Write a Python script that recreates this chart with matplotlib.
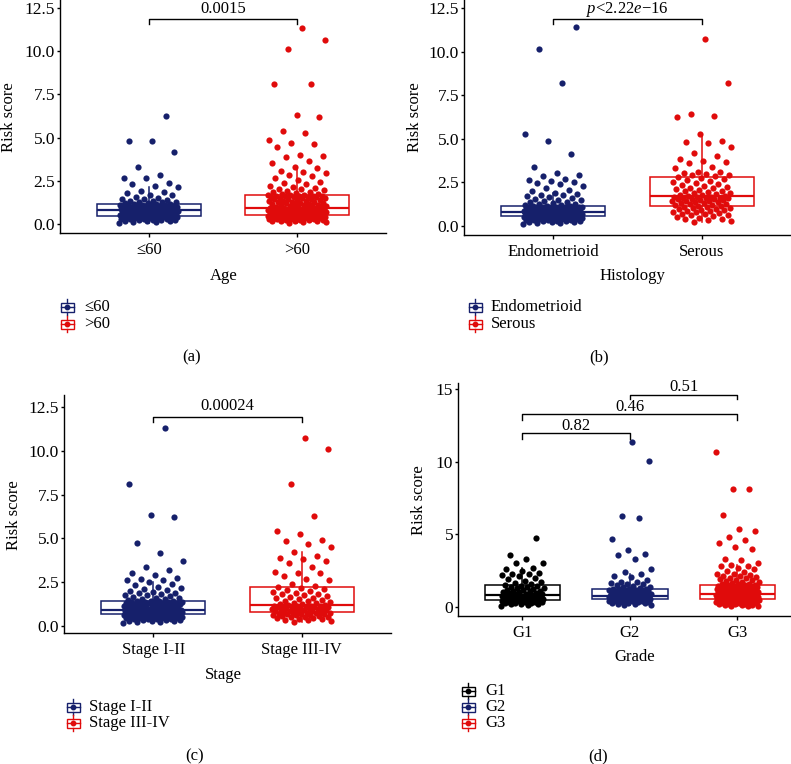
import numpy as np
import matplotlib
matplotlib.use("Agg")
import matplotlib.pyplot as plt
from matplotlib.patches import Rectangle

plt.rcParams['font.family'] = ['Liberation Serif', 'DejaVu Serif']
plt.rcParams['font.size'] = 12
plt.rcParams['mathtext.fontset'] = 'custom'
plt.rcParams['mathtext.rm'] = 'Liberation Serif'
plt.rcParams['mathtext.it'] = 'Liberation Serif:italic'

NAVY = '#16206B'
RED = '#E00B0B'
BLACK = '#000000'

# ---- data: risk scores per group ----
age_le60 = [0.06, 0.1, 0.13, 0.15, 0.16, 0.19, 0.21, 0.22, 0.25, 0.26, 0.28, 0.3, 0.31, 0.31, 0.33,
            0.35, 0.36, 0.36, 0.38, 0.39, 0.4, 0.4, 0.41, 0.42, 0.43, 0.43, 0.44, 0.45, 0.45, 0.46,
            0.47, 0.48, 0.48, 0.5, 0.51, 0.52, 0.53, 0.53, 0.55, 0.56, 0.57, 0.58, 0.6, 0.61, 0.61,
            0.63, 0.64, 0.65, 0.66, 0.67, 0.68, 0.7, 0.71, 0.72, 0.72, 0.73, 0.74, 0.75, 0.76, 0.77,
            0.78, 0.79, 0.8, 0.81, 0.82, 0.84, 0.85, 0.86, 0.87, 0.88, 0.9, 0.91, 0.92, 0.93, 0.95,
            0.96, 0.97, 0.98, 1.0, 1.01, 1.02, 1.03, 1.05, 1.06, 1.07, 1.08, 1.09, 1.1, 1.11, 1.12,
            1.14, 1.16, 1.18, 1.2, 1.23, 1.25, 1.27, 1.3, 1.33, 1.35, 1.38, 1.42, 1.46, 1.52, 1.58,
            1.65, 1.7, 1.78, 1.85, 1.9, 2.15, 2.2, 2.3, 2.35, 2.64, 2.66, 2.85, 3.3, 4.18, 4.8, 4.82, 6.25]
age_gt60 = [0.08, 0.11, 0.13, 0.15, 0.17, 0.19, 0.2, 0.22, 0.23, 0.25, 0.26, 0.28, 0.29, 0.3, 0.31,
            0.32, 0.33, 0.34, 0.35, 0.36, 0.37, 0.38, 0.39, 0.4, 0.41, 0.42, 0.42, 0.43, 0.44, 0.45,
            0.46, 0.46, 0.47, 0.48, 0.48, 0.49, 0.5, 0.5, 0.51, 0.51, 0.52, 0.52,
            0.53, 0.54, 0.55, 0.56, 0.57, 0.58, 0.59, 0.6, 0.61, 0.62, 0.63, 0.64, 0.65, 0.66, 0.67,
            0.68, 0.69, 0.7, 0.71, 0.72, 0.73, 0.74, 0.75, 0.76, 0.77, 0.78, 0.79, 0.8, 0.81, 0.82,
            0.83, 0.84, 0.85, 0.86, 0.87, 0.88, 0.89, 0.9, 0.91, 0.92, 0.93, 0.94,
            0.95, 0.97, 0.99, 1.01, 1.03, 1.05, 1.07, 1.09, 1.1, 1.12, 1.14, 1.16, 1.18, 1.2, 1.22,
            1.24, 1.26, 1.28, 1.3, 1.32, 1.34, 1.36, 1.38, 1.4, 1.42, 1.44, 1.46, 1.48, 1.5, 1.52,
            1.54, 1.56, 1.57, 1.58, 1.6, 1.61, 1.62, 1.63, 1.64, 1.65, 1.66, 1.68,
            1.72, 1.76, 1.8, 1.84, 1.88, 1.92, 1.96, 2.0, 2.05, 2.1, 2.15, 2.22, 2.3, 2.38, 2.45,
            2.55, 2.65, 2.75, 2.85, 2.95, 3.02, 3.08, 3.25, 3.3, 3.55, 3.65, 3.85, 3.95, 4.0, 4.45,
            4.65, 4.7, 4.85, 5.25, 5.4, 6.2, 6.3, 8.1, 8.12, 10.1, 10.65, 11.35]

hist_endo = [0.1, 0.14, 0.17, 0.2, 0.22, 0.24, 0.26, 0.28, 0.3, 0.31, 0.32, 0.34, 0.35, 0.36, 0.37,
             0.38, 0.39, 0.4, 0.41, 0.42, 0.43, 0.44, 0.45, 0.46, 0.47, 0.47, 0.48, 0.49, 0.5, 0.5,
             0.51, 0.52, 0.52, 0.53, 0.54, 0.54, 0.55, 0.56, 0.56, 0.57,
             0.58, 0.59, 0.59, 0.6, 0.61, 0.61, 0.62, 0.63, 0.63, 0.64, 0.64, 0.65, 0.66, 0.66, 0.67,
             0.67, 0.68, 0.68, 0.69, 0.7, 0.7, 0.71, 0.71, 0.72, 0.72, 0.73, 0.73, 0.74, 0.74, 0.75,
             0.75, 0.76, 0.76, 0.76, 0.77, 0.77, 0.77, 0.78, 0.78, 0.78,
             0.79, 0.8, 0.81, 0.82, 0.83, 0.84, 0.85, 0.86, 0.86, 0.87, 0.88, 0.89, 0.9, 0.91, 0.92,
             0.93, 0.94, 0.95, 0.96, 0.97, 0.98, 0.99, 1.0, 1.01, 1.02, 1.03, 1.04, 1.05, 1.06, 1.07,
             1.07, 1.08, 1.08, 1.09, 1.09, 1.1, 1.1, 1.11, 1.11, 1.11,
             1.13, 1.15, 1.17, 1.2, 1.22, 1.25, 1.28, 1.31, 1.35, 1.38, 1.42, 1.46, 1.5, 1.55, 1.6,
             1.65, 1.7, 1.75, 1.8, 1.85, 1.9, 1.98, 2.05, 2.15, 2.3, 2.4, 2.45, 2.5, 2.6, 2.65,
             2.7, 2.85, 2.95, 3.05, 3.4, 4.15, 4.85, 5.3, 8.2, 10.15, 11.4]
hist_serous = [0.25, 0.3, 0.35, 0.38, 0.42, 0.47, 0.5, 0.55, 0.6, 0.63, 0.67, 0.7, 0.74, 0.78, 0.8,
               0.84, 0.87, 0.9, 0.93, 0.96, 0.99, 1.02, 1.05, 1.08, 1.11,
               1.13, 1.16, 1.19, 1.22, 1.25, 1.28, 1.3, 1.33, 1.36, 1.38, 1.41, 1.43, 1.45, 1.48, 1.5,
               1.52, 1.54, 1.56, 1.58, 1.6, 1.62, 1.63, 1.65, 1.66, 1.68,
               1.71, 1.74, 1.77, 1.8, 1.84, 1.87, 1.9, 1.94, 1.98, 2.02, 2.06, 2.1, 2.15, 2.2, 2.25,
               2.3, 2.36, 2.42, 2.48, 2.54, 2.6, 2.65, 2.7, 2.75, 2.79,
               2.85, 2.9, 2.95, 3.0, 3.05, 3.1, 3.12, 3.3, 3.4, 3.6, 3.65, 3.75, 3.85, 4.0, 4.2,
               4.5, 4.75, 4.8, 4.9, 5.3, 6.25, 6.3, 6.4, 8.2, 10.75]

stage_early = [0.18, 0.22, 0.25, 0.27, 0.29, 0.31, 0.33, 0.35, 0.36, 0.38, 0.4, 0.41, 0.42, 0.44, 0.45,
               0.46, 0.47, 0.48, 0.49, 0.5, 0.51, 0.52, 0.53, 0.54, 0.55, 0.56, 0.57, 0.58, 0.59, 0.6,
               0.6, 0.61, 0.62, 0.63, 0.63, 0.64, 0.65, 0.66,
               0.67, 0.67, 0.68, 0.69, 0.7, 0.7, 0.71, 0.72, 0.73, 0.73, 0.74, 0.75, 0.76, 0.76, 0.77,
               0.78, 0.79, 0.8, 0.8, 0.81, 0.82, 0.83, 0.83, 0.84, 0.85, 0.85, 0.86, 0.87, 0.87, 0.88,
               0.88, 0.89, 0.89, 0.9, 0.9, 0.91, 0.91, 0.92,
               0.93, 0.95, 0.96, 0.98, 0.99, 1.0, 1.02, 1.03, 1.05, 1.06, 1.08, 1.09, 1.1, 1.12, 1.13,
               1.15, 1.16, 1.18, 1.19, 1.2, 1.22, 1.23, 1.25, 1.26, 1.28, 1.29, 1.3, 1.31, 1.33, 1.34,
               1.35, 1.36, 1.37, 1.38, 1.39, 1.4, 1.41, 1.42,
               1.45, 1.48, 1.52, 1.55, 1.58, 1.62, 1.66, 1.7, 1.74, 1.78, 1.82, 1.86, 1.9, 1.95, 2.0,
               2.05, 2.1, 2.18, 2.25, 2.35, 2.4, 2.5, 2.6, 2.65, 2.7, 2.75, 2.9, 3.0, 3.2, 3.35,
               3.7, 4.15, 4.75, 6.2, 6.35, 8.1, 11.3]
stage_late = [0.25, 0.3, 0.33, 0.36, 0.39, 0.42, 0.45, 0.47, 0.5, 0.52, 0.54, 0.56, 0.58, 0.6, 0.62,
              0.64, 0.66, 0.67, 0.69, 0.7, 0.72, 0.73, 0.75, 0.76, 0.78,
              0.8, 0.82, 0.84, 0.86, 0.88, 0.9, 0.92, 0.94, 0.95, 0.97, 0.98, 1.0, 1.01, 1.03, 1.04,
              1.06, 1.07, 1.08, 1.09, 1.1, 1.11, 1.12, 1.13, 1.15, 1.16,
              1.19, 1.22, 1.25, 1.28, 1.31, 1.34, 1.38, 1.41, 1.45, 1.49, 1.53, 1.57, 1.61, 1.65, 1.7,
              1.75, 1.8, 1.85, 1.9, 1.95, 2.0, 2.05, 2.1, 2.15, 2.2,
              2.3, 2.4, 2.65, 2.7, 2.85, 3.0, 3.05, 3.1, 3.35, 3.6, 3.7, 3.85, 3.9, 4.0,
              4.2, 4.5, 4.65, 4.85, 4.9, 5.25, 5.4, 6.25, 8.1, 10.1, 10.7]

grade_g1 = [0.1, 0.14, 0.18, 0.2, 0.23, 0.25, 0.27, 0.29, 0.31, 0.33, 0.35, 0.37, 0.38, 0.4, 0.41,
            0.42, 0.44, 0.45, 0.46, 0.48,
            0.5, 0.52, 0.54, 0.56, 0.58, 0.6, 0.62, 0.63, 0.65, 0.66, 0.68, 0.69, 0.7, 0.72, 0.73,
            0.75, 0.76, 0.77, 0.79, 0.8,
            0.83, 0.86, 0.89, 0.92, 0.95, 0.98, 1.01, 1.04, 1.07, 1.1, 1.13, 1.17, 1.2, 1.24, 1.28,
            1.32, 1.36, 1.4, 1.44, 1.47,
            1.52, 1.58, 1.65, 1.7, 1.8, 1.95, 2.0, 2.1, 2.2, 2.25, 2.3, 2.35, 2.5, 2.6,
            2.65, 3.0, 3.05, 3.3, 3.55, 4.75]
grade_g2 = [0.12, 0.16, 0.2, 0.23, 0.26, 0.28, 0.3, 0.32, 0.34, 0.36, 0.38, 0.4, 0.41, 0.43, 0.44,
            0.46, 0.47, 0.48, 0.49, 0.5, 0.51, 0.52, 0.53, 0.54, 0.55,
            0.56, 0.57, 0.58, 0.59, 0.6, 0.61, 0.62, 0.63, 0.64, 0.65, 0.66, 0.67, 0.68, 0.69, 0.7,
            0.71, 0.72, 0.73, 0.74, 0.74, 0.75, 0.76, 0.76, 0.77, 0.78,
            0.8, 0.82, 0.84, 0.86, 0.88, 0.9, 0.92, 0.94, 0.96, 0.98, 1.0, 1.02, 1.04, 1.06, 1.08,
            1.1, 1.12, 1.14, 1.16, 1.18, 1.2, 1.21, 1.23, 1.25, 1.26,
            1.3, 1.35, 1.4, 1.45, 1.5, 1.55, 1.6, 1.65, 1.7, 1.75, 1.85, 2.05, 2.15, 2.3,
            2.4, 2.6, 3.3, 3.55, 3.65, 3.95, 4.7, 6.15, 6.25, 10.05, 11.35]
grade_g3 = [0.04, 0.07, 0.1, 0.12, 0.14, 0.16, 0.18, 0.2, 0.21, 0.23, 0.24, 0.26, 0.27, 0.28, 0.3,
            0.31, 0.32, 0.33, 0.34, 0.35, 0.36, 0.37, 0.38, 0.39, 0.4, 0.41, 0.42, 0.43, 0.44, 0.45,
            0.46, 0.47, 0.47, 0.48, 0.49, 0.5, 0.5, 0.51, 0.52, 0.53,
            0.54, 0.55, 0.56, 0.57, 0.58, 0.59, 0.6, 0.61, 0.62, 0.63, 0.64, 0.65, 0.66, 0.67, 0.68,
            0.69, 0.7, 0.71, 0.72, 0.73, 0.74, 0.75, 0.76, 0.77, 0.78, 0.78, 0.79, 0.8, 0.81, 0.82,
            0.83, 0.83, 0.84, 0.85, 0.85, 0.86, 0.86, 0.87, 0.87, 0.88,
            0.9, 0.91, 0.93, 0.94, 0.96, 0.97, 0.99, 1.0, 1.02, 1.03, 1.05, 1.06, 1.08, 1.09, 1.11,
            1.12, 1.14, 1.15, 1.17, 1.18, 1.2, 1.22, 1.23, 1.25, 1.27, 1.28, 1.3, 1.32, 1.33, 1.35,
            1.37, 1.38, 1.4, 1.41, 1.43, 1.44, 1.45, 1.47, 1.48, 1.49,
            1.52, 1.55, 1.58, 1.6, 1.66, 1.7, 1.73, 1.8, 1.84, 1.88, 1.92, 1.96, 2.0,
            2.05, 2.1, 2.15, 2.2, 2.25, 2.3, 2.4, 2.5, 2.6, 2.7, 2.8, 2.85, 2.9, 3.0, 3.2,
            3.3, 4.0, 4.1, 4.4, 4.6, 4.8, 5.2, 5.35, 6.3, 8.1, 8.1, 10.65]

age_labels = ['≤60', '>60']
hist_labels = ['Endometrioid', 'Serous']
stage_labels = ['Stage I-II', 'Stage III-IV']
grade_labels = ['G1', 'G2', 'G3']
p_age = '0.0015'
p_hist = r'$\mathit{p}$<2.22$\mathit{e}$−16'
p_stage = '0.00024'
p_grade = ['0.82', '0.46', '0.51']

W, H = 791, 764
fig = plt.figure(figsize=(W / 100, H / 100), dpi=100)


def px_axes(left, top, right, bottom):
    return fig.add_axes([left / W, 1 - bottom / H, (right - left) / W, (bottom - top) / H])


def panel(ax, groups, labels, colors, xlim, ylim, yticks, yfmt):
    pos = np.arange(1, len(groups) + 1)
    bp = ax.boxplot(groups, positions=pos, widths=0.7, showfliers=False, patch_artist=True,
                    whis=1.5, zorder=1)
    for i, c in enumerate(colors):
        bp['boxes'][i].set(facecolor='white', edgecolor=c, linewidth=1.1)
        bp['medians'][i].set(color=c, linewidth=1.6)
        for k in (2 * i, 2 * i + 1):
            bp['whiskers'][k].set(color=c, linewidth=1.1)
            bp['caps'][k].set(visible=False)
    for i, (g, c) in enumerate(zip(groups, colors)):
        n = len(g)
        # deterministic jitter, +-0.2 around the group position
        off = ((np.arange(n) * 0.6180339887 + 0.37 * i) % 1.0 - 0.5) * 0.4
        ax.scatter(pos[i] + off, g, s=20, color=c, linewidths=0, zorder=3)
    ax.set_xlim(*xlim)
    ax.set_ylim(*ylim)
    ax.set_xticks(pos)
    ax.set_xticklabels(labels)
    ax.set_yticks(yticks)
    ax.set_yticklabels([yfmt.format(t) for t in yticks])
    for s in ('top', 'right'):
        ax.spines[s].set_visible(False)
    for s in ('left', 'bottom'):
        ax.spines[s].set_linewidth(1.0)
    ax.tick_params(axis='y', length=2.5, width=1.0, pad=1, labelsize=12.5)
    ax.tick_params(axis='x', length=3, width=1.0, pad=3.5, labelsize=12)
    ax.patch.set_alpha(0)


def bracket(ax, x1, x2, y, tip, gap, label):
    ax.plot([x1, x1, x2, x2], [y - tip, y, y, y - tip], color='black', lw=1.0,
            clip_on=False, zorder=4)
    ax.text((x1 + x2) / 2, y + gap, label, ha='center', va='baseline', fontsize=12,
            clip_on=False)


ax_a = px_axes(60, 0, 386, 233)
panel(ax_a, [age_le60, age_gt60], age_labels, [NAVY, RED], (0.4, 2.6), (-0.52, 12.96),
      [0, 2.5, 5, 7.5, 10, 12.5], '{:.1f}')
bracket(ax_a, 1, 2, 11.86, 0.28, 0.35, p_age)

ax_b = px_axes(464, 0, 791, 235)
panel(ax_b, [hist_endo, hist_serous], hist_labels, [NAVY, RED], (0.4, 2.6), (-0.52, 12.96),
      [0, 2.5, 5, 7.5, 10, 12.5], '{:.1f}')
bracket(ax_b, 1, 2, 11.87, 0.28, 0.35, p_hist)

ax_c = px_axes(64, 395, 391, 633)
panel(ax_c, [stage_early, stage_late], stage_labels, [NAVY, RED], (0.4, 2.6), (-0.40, 13.18),
      [0, 2.5, 5, 7.5, 10, 12.5], '{:.1f}')
bracket(ax_c, 1, 2, 11.95, 0.3, 0.35, p_stage)

ax_d = px_axes(458, 383, 791, 616)
panel(ax_d, [grade_g1, grade_g2, grade_g3], grade_labels, [BLACK, NAVY, RED], (0.4, 3.498),
      (-0.62, 15.41), [0, 5, 10, 15], '{:.0f}')
bracket(ax_d, 1, 2, 11.95, 0.4, 0.22, p_grade[0])
bracket(ax_d, 1, 3, 13.28, 0.4, 0.22, p_grade[1])
bracket(ax_d, 2, 3, 14.59, 0.25, 0.25, p_grade[2])

# overlay in pixel coordinates for titles, legends and panel letters
ov = fig.add_axes([0, 0, 1, 1])
ov.set_xlim(0, W)
ov.set_ylim(H, 0)
ov.axis('off')
ov.patch.set_alpha(0)

for x, y in [(9, 117), (415, 117), (14, 515), (419, 500)]:
    ov.text(x, y, 'Risk score', rotation=90, ha='center', va='center', fontsize=12)

for txt, x, y in [('Age', 224, 276), ('Histology', 632, 276), ('Stage', 223, 675),
                  ('Grade', 635, 657), ('(a)', 192, 357), ('(b)', 599, 357),
                  ('(c)', 195, 756), ('(d)', 598, 756)]:
    ov.text(x, y, txt, ha='center', va='center', fontsize=12)


def legend_key(cx, cy, c, label, tx):
    ov.add_patch(Rectangle((cx - 6.5, cy - 4.5), 13, 9, facecolor='white', edgecolor=c, lw=1.0))
    ov.plot([cx, cx], [cy - 8, cy - 4.5], color=c, lw=1.0)
    ov.plot([cx, cx], [cy + 4.5, cy + 8], color=c, lw=1.0)
    ov.plot([cx - 6.5, cx + 6.5], [cy, cy], color=c, lw=1.0)
    ov.plot([cx], [cy], 'o', color=c, ms=3.2)
    ov.text(tx, cy, label, ha='left', va='center', fontsize=12)


legend_key(67, 307, NAVY, age_labels[0], 84)
legend_key(67, 324, RED, age_labels[1], 84)
legend_key(475, 307, NAVY, hist_labels[0], 491)
legend_key(475, 324, RED, hist_labels[1], 491)
legend_key(73, 707, NAVY, stage_labels[0], 89)
legend_key(73, 723, RED, stage_labels[1], 89)
legend_key(468, 691, BLACK, grade_labels[0], 485)
legend_key(468, 707, NAVY, grade_labels[1], 485)
legend_key(468, 723, RED, grade_labels[2], 485)

fig.savefig('out.png', dpi=100)
